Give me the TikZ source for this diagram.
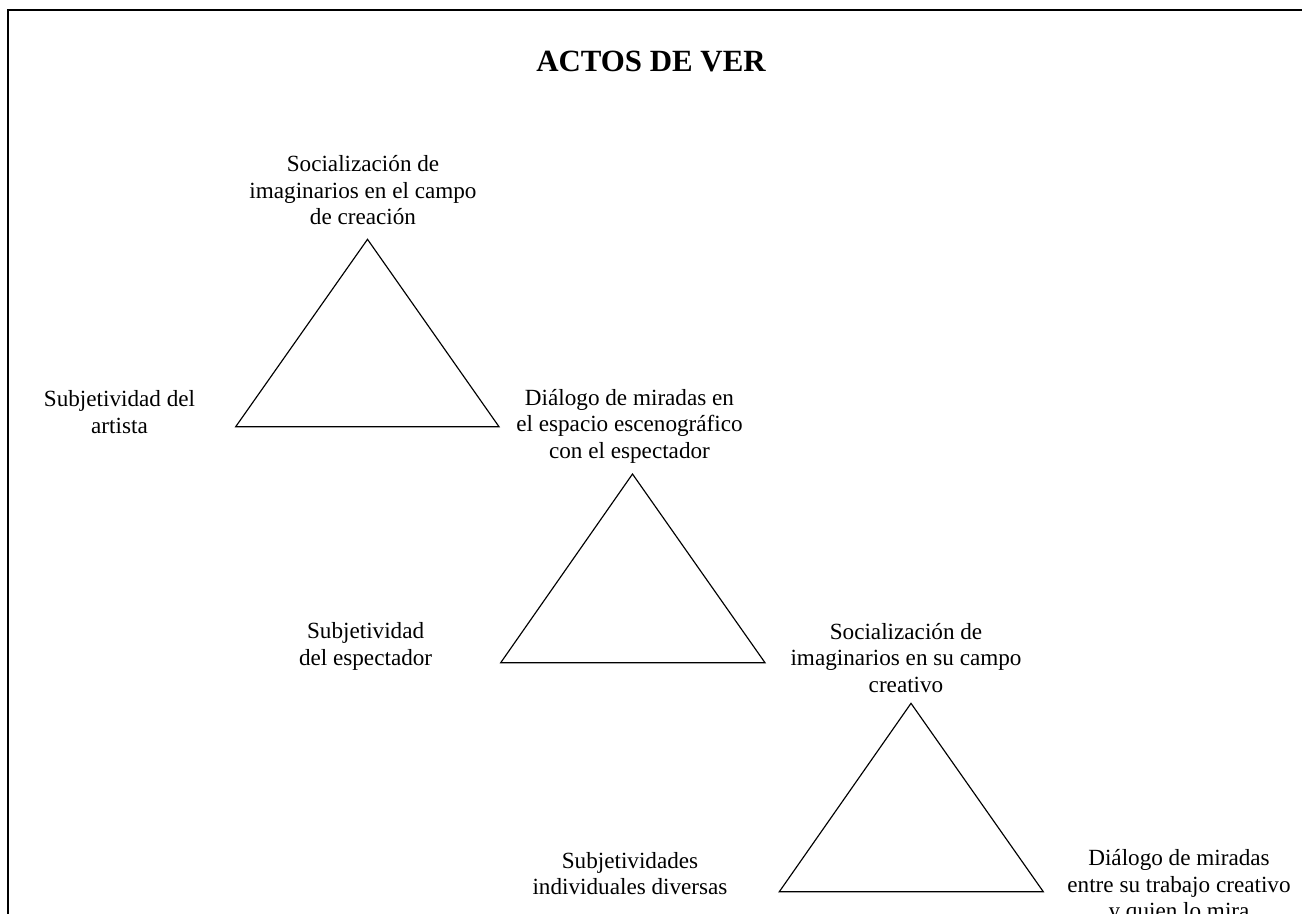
\documentclass[tikz,border=0pt]{standalone}
\usepackage{fontspec}
\setmainfont{Liberation Serif}
\begin{document}
\begin{tikzpicture}[x=0.5181pt,y=-0.5181pt,
  lbl/.style={font=\fontsize{12}{13.8}\selectfont, align=center, inner sep=0pt, anchor=center},
  tri/.style={draw=black, line width=0.6pt, line join=miter},
  frame/.style={draw=black, line width=1.05pt}]
\useasboundingbox (0,0) rectangle (1302,913);
\begin{scope}
\clip (0,0) rectangle (1302,913);
\coordinate (fb) at (8.3,920);
\coordinate (fc) at (8.3,10.3);
\coordinate (fr) at (1310,10.3);
\draw[frame] (fb) -- (fc) -- (fr);

\node[font=\fontsize{16}{19}\selectfont\bfseries, inner sep=0pt, anchor=base] (title) at (651,71.7) {ACTOS DE VER};

% triangle 1
\coordinate (a1) at (367.5,239.3);
\coordinate (b1) at (235.7,426.7);
\coordinate (c1) at (499,426.7);
\draw[tri] (a1) -- (c1) -- (b1) -- cycle;
% triangle 2
\coordinate (a2) at (632.5,474);
\coordinate (b2) at (500.7,662.7);
\coordinate (c2) at (765,662.7);
\draw[tri] (a2) -- (c2) -- (b2) -- cycle;
% triangle 3
\coordinate (a3) at (911,703.3);
\coordinate (b3) at (779.3,891.7);
\coordinate (c3) at (1043.3,891.7);
\draw[tri] (a3) -- (c3) -- (b3) -- cycle;

\node[lbl] (t1top) at (363,193) {\strut Socialización de\\\strut imaginarios en el campo\\\strut de creación};
\node[lbl] (t1left) at (119.5,414.4) {\strut Subjetividad del\\\strut artista};
\node[lbl] (t2top) at (629.5,426.4) {\strut Diálogo de miradas en\\\strut el espacio escenográfico\\\strut con el espectador};
\node[lbl] (t2left) at (365.6,646.4) {\strut Subjetividad\\\strut del espectador};
\node[lbl] (t3top) at (906,660.4) {\strut Socialización de\\\strut imaginarios en su campo\\\strut creativo};
\node[lbl] (t3left) at (630,876.2) {\strut Subjetividades\\\strut individuales diversas};
\node[lbl] (t3right) at (1179,886.7) {\strut Diálogo de miradas\\\strut entre su trabajo creativo\\\strut y quien lo mira};
\end{scope}
\end{tikzpicture}
\end{document}
